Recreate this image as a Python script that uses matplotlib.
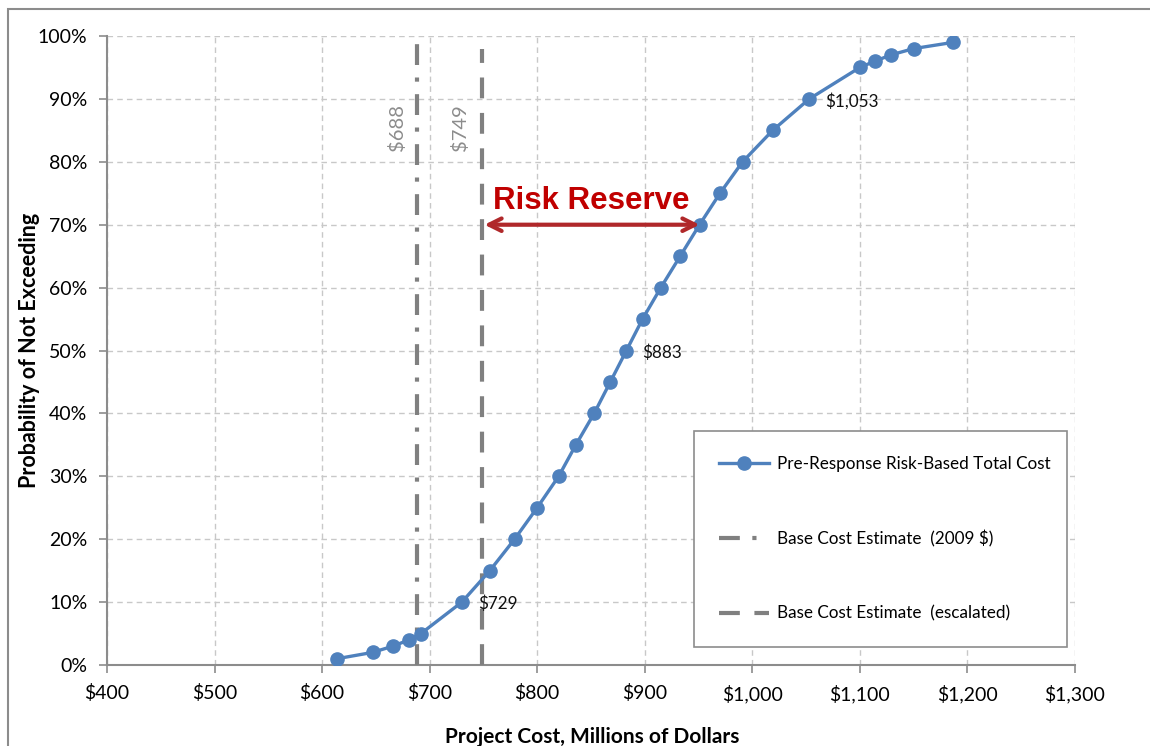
import matplotlib.pyplot as plt
from matplotlib.patches import Rectangle
from matplotlib.ticker import FuncFormatter

plt.rcParams['font.family'] = ['Lato', 'DejaVu Sans']

# Данные кривой (стоимость, млн $ / вероятность, %)
cost = [614, 647, 666, 681, 692, 730, 756, 779, 800, 820, 836, 853, 868, 883,
        898, 915, 933, 951, 970, 991, 1019, 1053, 1100, 1114, 1129, 1150, 1187]
prob = [1, 2, 3, 4, 5, 10, 15, 20, 25, 30, 35, 40, 45, 50,
        55, 60, 65, 70, 75, 80, 85, 90, 95, 96, 97, 98, 99]

base_2009 = 688
base_escalated = 749
reserve_prob = 70
reserve_end = 951

# подписи точек: (стоимость, вероятность, текст)
point_labels = [(730, 10, "$729"), (883, 50, "$883"), (1053, 90, "$1,053")]

fig = plt.figure(figsize=(11.5, 7.46), dpi=100)
ax = fig.add_axes([0.093, 0.1086, 0.8417, 0.8431])

# внешняя рамка
fig.patches.append(Rectangle((8 / 1150, -0.1), 1.2, 1.088, transform=fig.transFigure,
                             fill=False, edgecolor='#8c8c8c', linewidth=1.5))

ax.plot(cost, prob, color='#4F81BD', linewidth=2.4, marker='o', markersize=9.5,
        label='Pre-Response Risk-Based Total Cost', zorder=5)
ax.plot([base_2009, base_2009], [0, 100], color='#808080', linewidth=3,
        dashes=(5, 3, 1, 3), label='Base Cost Estimate  (2009 $)', zorder=3)
ax.plot([base_escalated, base_escalated], [0, 98], color='#808080', linewidth=3,
        dashes=(5, 3.5), label='Base Cost Estimate  (escalated)', zorder=3)

ax.text(base_2009 - 18, 85.5, "$688", rotation=90, color='#8c8c8c', fontsize=14.5,
        ha='center', va='center')
ax.text(base_escalated - 21, 85.5, "$749", rotation=90, color='#8c8c8c', fontsize=14.5,
        ha='center', va='center')

for x, y, t in point_labels:
    ax.text(x + 15, y - 0.3, t, fontsize=12.3, ha='left', va='center', color='#111111')

# стрелка резерва
ax.annotate('', xy=(base_escalated + 2, reserve_prob), xytext=(reserve_end, reserve_prob),
            arrowprops=dict(arrowstyle='<->,head_length=0.9,head_width=0.45',
                            color='#B0282A', linewidth=3, shrinkA=0, shrinkB=0), zorder=6)
ax.text((base_escalated + reserve_end) / 2, 73.8, "Risk Reserve", color='#C00000',
        fontsize=22.5, fontweight='bold', family=['Liberation Sans', 'DejaVu Sans'],
        ha='center', va='center')

ax.set_xlim(400, 1300)
ax.set_ylim(0, 100)
ax.set_xticks(range(400, 1301, 100))
ax.set_yticks(range(0, 101, 10))
ax.xaxis.set_major_formatter(FuncFormatter(lambda v, p: "${:,.0f}".format(v)))
ax.yaxis.set_major_formatter(FuncFormatter(lambda v, p: "{:.0f}%".format(v)))
ax.tick_params(labelsize=14, color='#8c8c8c', length=6, width=1.2, pad=8)
ax.grid(True, color='#c8c8c8', linestyle=(0, (4, 3)), linewidth=1)
for s in ['top', 'right']:
    ax.spines[s].set_visible(False)
for s in ['left', 'bottom']:
    ax.spines[s].set_color('#8c8c8c')
    ax.spines[s].set_linewidth(1.5)

fig.text(0.515, (746 - 737) / 746, "Project Cost, Millions of Dollars", fontsize=15,
         fontweight='bold', ha='center', va='center')
fig.text(0.026, 0.53, "Probability of Not Exceeding", fontsize=15.5, fontweight='bold',
         rotation=90, ha='center', va='center')

leg = ax.legend(loc='center', bbox_to_anchor=(0.606, 0.021, 0.386, 0.359), mode='expand',
                borderaxespad=0, fontsize=12.3, handlelength=2.9, handletextpad=0.5,
                labelspacing=3.4, borderpad=1.5, fancybox=False, framealpha=1,
                edgecolor='#8c8c8c')
leg.get_frame().set_linewidth(1.2)

plt.savefig('out.png', dpi=100)
plt.close()
